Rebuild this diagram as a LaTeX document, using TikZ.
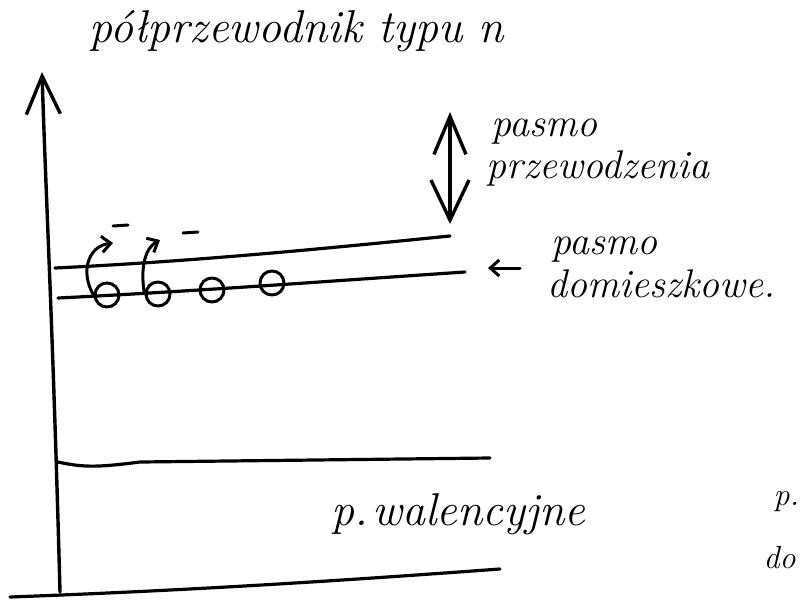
\documentclass[tikz,border=0pt]{standalone}
\usepackage{fontspec}
\usetikzlibrary{arrows.meta}
\begin{document}
\begin{tikzpicture}[x=1pt,y=-1pt, line width=3.4pt, line cap=round, line join=round,
  hand/.style={font=\fontsize{46}{46}\selectfont\itshape, inner sep=0pt},
  handsm/.style={font=\fontsize{40}{40}\selectfont\itshape, inner sep=0pt},
  handcut/.style={font=\fontsize{32}{32}\selectfont\itshape, inner sep=0pt},
  bigbarb/.style={-{Straight Barb[length=38pt,width=34pt]}},
  dblbarb/.style={{Straight Barb[length=38pt,width=32pt]}-{Straight Barb[length=40pt,width=38pt]}},
  smallbarb/.style={-{Straight Barb[length=9pt,width=16pt]}, line width=3pt},
  band/.style={line width=3.2pt},
  donor/.style={circle, draw, minimum size=24pt, inner sep=0pt, line width=3pt}]
\useasboundingbox (0,0) rectangle (800,603);
\fill[white] (0,0) rectangle (800,603);
% energy axis
\coordinate (origin) at (60,592);
\coordinate (axistop) at (42,72);
\draw[bigbarb] (origin) .. controls (53,330) and (46,200) .. (axistop);
% bottom line
\draw[band] (10,597) .. controls (200,590) and (350,580) .. (500,569);
% valence band top
\draw[band] (58,462) .. controls (85,468) and (100,467) .. (140,462) -- (490,458);
% conduction band bottom
\draw[band] (55,268) .. controls (200,261) and (330,248) .. (450,236);
% donor level
\draw[band] (58,298) .. controls (200,291) and (330,281) .. (465,272);
% donor atoms
\node[donor] (d1) at (107,295) {};
\node[donor] (d2) at (158,294) {};
\node[donor] (d3) at (212,290) {};
\node[donor] (d4) at (272,283) {};
% electrons leaving donors
\draw[smallbarb] (d1.west) .. controls (80,272) and (88,246) .. (113,243);
\draw[smallbarb] (d2.west) .. controls (140,268) and (145,248) .. (160,240);
\coordinate (e1a) at (113,226); \coordinate (e1b) at (128,225);
\coordinate (e2a) at (183,233); \coordinate (e2b) at (198,232);
\draw[line width=3pt] (e1a) -- (e1b);
\draw[line width=3pt] (e2a) -- (e2b);
% gap arrow
\coordinate (gaptop) at (450,112);
\coordinate (gapbot) at (450,224);
\draw[dblbarb] (gaptop) -- (gapbot);
% labels
\node[hand, anchor=base west] (title) at (88,42) {półprzewodnik typu n};
\node[handsm, anchor=base west] (cb1) at (490,136) {pasmo};
\node[handsm, anchor=base west] (cb2) at (485,178) {przewodzenia};
\node[handsm, anchor=base west] (db1) at (550,254) {pasmo};
\node[handsm, anchor=base west] (db2) at (546,297) {domieszkowe.};
\coordinate (dbarrowstart) at (520,268);
\coordinate (dbarrowend) at (488,268);
\draw[smallbarb] (dbarrowstart) -- (dbarrowend);
\node[hand, anchor=base west] (vb) at (330,525) {p.\hspace{4pt}walencyjne};
\node[handcut, anchor=base west] (cut1) at (772,505) {p.};
\node[handcut, anchor=base west] (cut2) at (762,568) {do};
\end{tikzpicture}
\end{document}
